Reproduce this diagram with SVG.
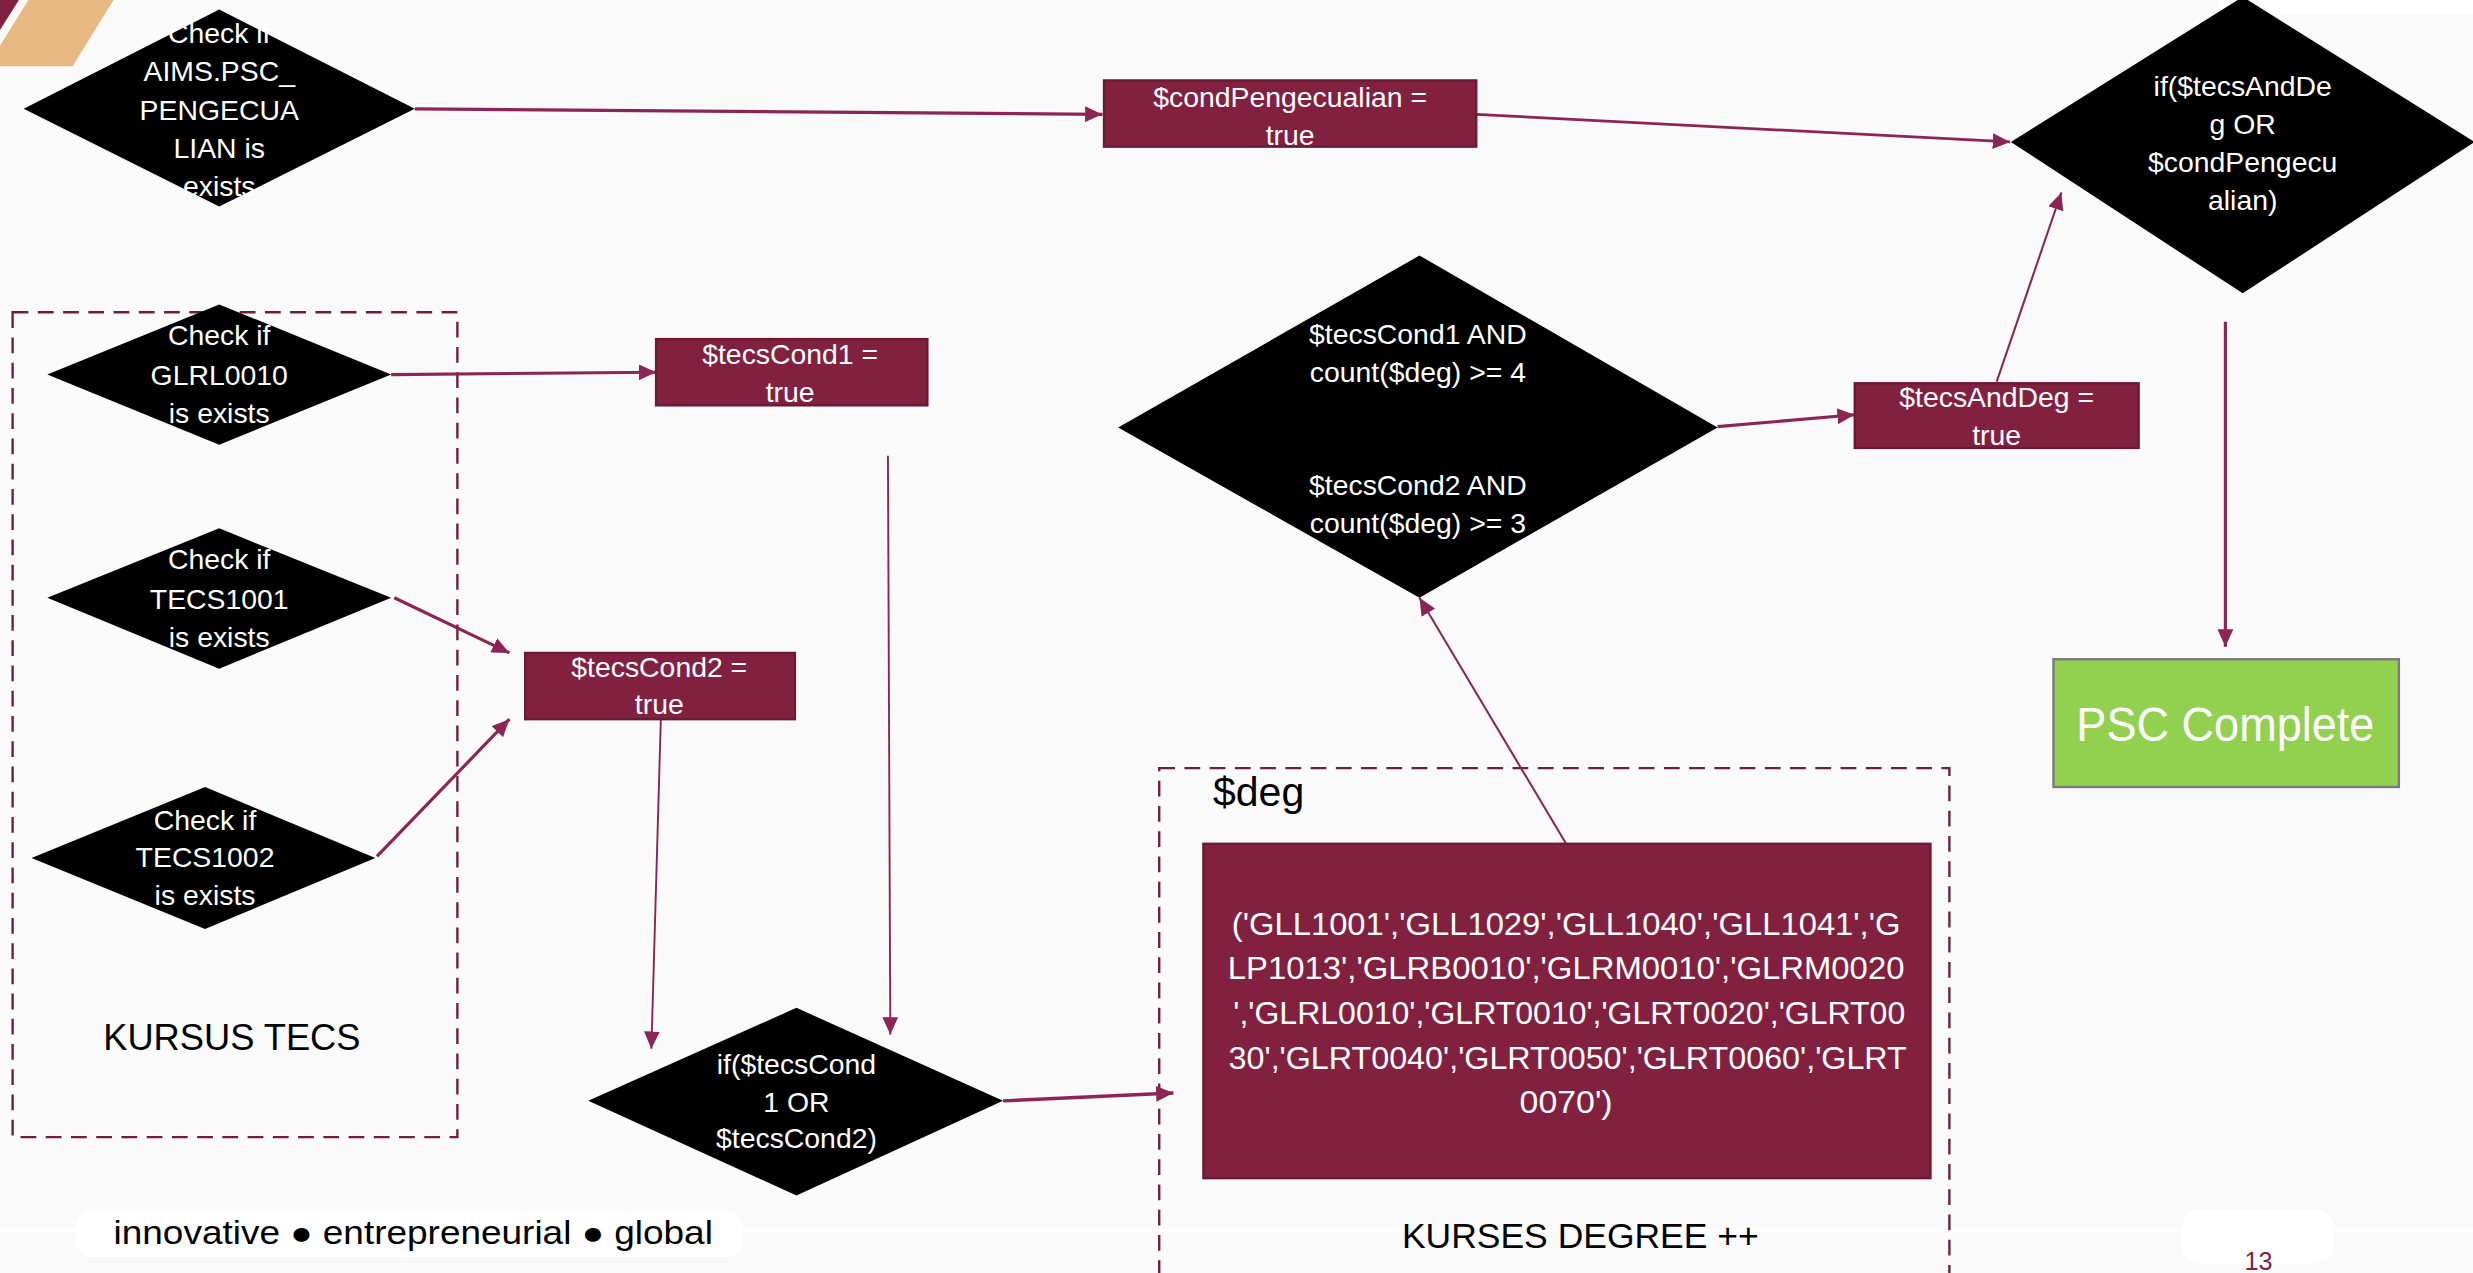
<svg xmlns="http://www.w3.org/2000/svg" width="2473" height="1273" viewBox="0 0 2473 1273">
<style>
.lbl{font-family:"Liberation Sans",Arial,sans-serif;fill:#ffffff;font-size:18px;text-anchor:middle}
.lst{font-size:20px}
.big{font-size:31px}
.blk{font-family:"Liberation Sans",Arial,sans-serif;fill:#000000;text-anchor:middle}
.box{fill:#82213f;stroke:#6a1a33;stroke-width:1.5}
.dia{fill:#000000}
.conn{stroke:#8c2455;fill:none}
.dash{fill:none;stroke:#6e1f3a;stroke-width:1.5;stroke-dasharray:10 6}
</style>
<defs>
<marker id="ah" markerUnits="userSpaceOnUse" markerWidth="11" markerHeight="10" refX="11" refY="5" orient="auto">
<path d="M0,0 L11,5 L0,10 z" fill="#8c2455"/>
</marker>
</defs>
<rect x="0" y="0" width="2473" height="1273" fill="#fafafa"/>
<g transform="scale(1.57717)">
<g id="decor">
<polygon points="0,0 12,0 0,19" fill="#82213f"/>
<polygon points="18,0 72,0 46,42 0,42 0,29" fill="#e9b984"/>
<rect x="1407" y="0" width="161" height="9" fill="#ffffff"/>
<line x1="0" y1="780" x2="1568" y2="780" stroke="#ffffff" stroke-width="1.5"/>
</g>
<g id="group-kursus-tecs">
<rect class="dash" x="8" y="198" width="282" height="523"/>
<text class="blk" x="147" y="666" font-size="23">KURSUS TECS</text>
</g>
<g id="group-kurses-degree">
<rect class="dash" x="735" y="487" width="501" height="340"/>
<text class="blk" x="798" y="511" font-size="26">$deg</text>
<text class="blk" x="1002" y="791" font-size="22.5">KURSES DEGREE ++</text>
</g>
<g id="connectors">
<line class="conn" stroke-width="2" x1="263" y1="69" x2="699" y2="72.5" marker-end="url(#ah)"/>
<line class="conn" stroke-width="1.8" x1="936" y1="72.5" x2="1274.5" y2="90" marker-end="url(#ah)"/>
<line class="conn" stroke-width="2" x1="248" y1="237.5" x2="416" y2="236" marker-end="url(#ah)"/>
<line class="conn" stroke-width="2" x1="250" y1="379" x2="323" y2="414" marker-end="url(#ah)"/>
<line class="conn" stroke-width="2" x1="239" y1="543" x2="323" y2="456" marker-end="url(#ah)"/>
<line class="conn" stroke-width="1.2" x1="563" y1="289" x2="564.5" y2="656" marker-end="url(#ah)"/>
<line class="conn" stroke-width="1.2" x1="419" y1="456" x2="413" y2="665" marker-end="url(#ah)"/>
<line class="conn" stroke-width="2.2" x1="636" y1="698" x2="744" y2="693" marker-end="url(#ah)"/>
<line class="conn" stroke-width="1.3" x1="993" y1="535" x2="900" y2="379" marker-end="url(#ah)"/>
<line class="conn" stroke-width="2" x1="1089" y1="270.5" x2="1176" y2="263" marker-end="url(#ah)"/>
<line class="conn" stroke-width="1.3" x1="1266" y1="242" x2="1307" y2="122" marker-end="url(#ah)"/>
<line class="conn" stroke-width="2" x1="1411" y1="204" x2="1411" y2="410" marker-end="url(#ah)"/>
</g>
<g id="check-aims">
<polygon class="dia" points="15,69 139,6 263,69 139,131"/>
<text class="lbl" x="139" y="27">Check if</text>
<text class="lbl" x="139" y="51.5">AIMS.PSC_</text>
<text class="lbl" x="139" y="76">PENGECUA</text>
<text class="lbl" x="139" y="100">LIAN is</text>
<text class="lbl" x="139" y="124">exists</text>
</g>
<g id="cond-pengecualian">
<rect class="box" x="700" y="51" width="236" height="42"/>
<text class="lbl" x="818" y="68">$condPengecualian =</text>
<text class="lbl" x="818" y="92">true</text>
</g>
<g id="if-final">
<polygon class="dia" points="1275,90 1422,-2 1569,90 1422,186"/>
<text class="lbl" x="1422" y="61">if($tecsAndDe</text>
<text class="lbl" x="1422" y="85">g OR</text>
<text class="lbl" x="1422" y="109">$condPengecu</text>
<text class="lbl" x="1422" y="133">alian)</text>
</g>
<g id="check-glrl0010">
<polygon class="dia" points="30,237.5 139,193 248,237.5 139,282"/>
<text class="lbl" x="139" y="219">Check if</text>
<text class="lbl" x="139" y="244">GLRL0010</text>
<text class="lbl" x="139" y="268">is exists</text>
</g>
<g id="tecs-cond1">
<rect class="box" x="416" y="215" width="172" height="42"/>
<text class="lbl" x="501" y="231">$tecsCond1 =</text>
<text class="lbl" x="501" y="255">true</text>
</g>
<g id="check-tecs1001">
<polygon class="dia" points="30,379 139,335 248,379 139,424"/>
<text class="lbl" x="139" y="361">Check if</text>
<text class="lbl" x="139" y="386">TECS1001</text>
<text class="lbl" x="139" y="410">is exists</text>
</g>
<g id="tecs-cond2">
<rect class="box" x="333" y="414" width="171" height="42"/>
<text class="lbl" x="418" y="429">$tecsCond2 =</text>
<text class="lbl" x="418" y="453">true</text>
</g>
<g id="check-tecs1002">
<polygon class="dia" points="20,544 130,499 238,544 130,589"/>
<text class="lbl" x="130" y="526">Check if</text>
<text class="lbl" x="130" y="550">TECS1002</text>
<text class="lbl" x="130" y="574">is exists</text>
</g>
<g id="if-tecs">
<polygon class="dia" points="373,698 505,639 636,698 505,758"/>
<text class="lbl" x="505" y="681">if($tecsCond</text>
<text class="lbl" x="505" y="705">1 OR</text>
<text class="lbl" x="505" y="728">$tecsCond2)</text>
</g>
<g id="deg-list">
<rect class="box" x="763" y="535" width="461" height="212"/>
<text class="lbl lst" x="993" y="593" textLength="424" lengthAdjust="spacingAndGlyphs">('GLL1001','GLL1029','GLL1040','GLL1041','G</text>
<text class="lbl lst" x="993" y="621" textLength="429" lengthAdjust="spacingAndGlyphs">LP1013','GLRB0010','GLRM0010','GLRM0020</text>
<text class="lbl lst" x="995" y="649" textLength="426" lengthAdjust="spacingAndGlyphs">','GLRL0010','GLRT0010','GLRT0020','GLRT00</text>
<text class="lbl lst" x="994" y="678" textLength="430" lengthAdjust="spacingAndGlyphs">30','GLRT0040','GLRT0050','GLRT0060','GLRT</text>
<text class="lbl lst" x="993" y="706" textLength="59" lengthAdjust="spacingAndGlyphs">0070')</text>
</g>
<g id="deg-condition">
<polygon class="dia" points="709,271 900,162 1089,271 900,379"/>
<text class="lbl" x="899" y="218">$tecsCond1 AND</text>
<text class="lbl" x="899" y="242">count($deg) &gt;= 4</text>
<text class="lbl" x="899" y="314">$tecsCond2 AND</text>
<text class="lbl" x="899" y="338">count($deg) &gt;= 3</text>
</g>
<g id="tecs-and-deg">
<rect class="box" x="1176" y="243" width="180" height="41"/>
<text class="lbl" x="1266" y="258">$tecsAndDeg =</text>
<text class="lbl" x="1266" y="282">true</text>
</g>
<g id="psc-complete">
<rect x="1302" y="418" width="219" height="81" fill="#92d050" stroke="#7a7a7a" stroke-width="1.5"/>
<text class="lbl big" x="1411" y="470" textLength="189" lengthAdjust="spacingAndGlyphs">PSC Complete</text>
</g>
<g id="footer">
<rect x="48" y="768" width="423" height="29" rx="10" fill="#ffffff"/>
<text class="blk" x="262" y="789" font-size="20.5" textLength="380" lengthAdjust="spacingAndGlyphs">innovative ● entrepreneurial ● global</text>
<rect x="1383" y="767" width="97" height="34" rx="12" fill="#ffffff"/>
<text x="1432" y="805" font-family="Liberation Sans, Arial, sans-serif" font-size="16" fill="#82213f" text-anchor="middle">13</text>
</g>
</g>
</svg>
